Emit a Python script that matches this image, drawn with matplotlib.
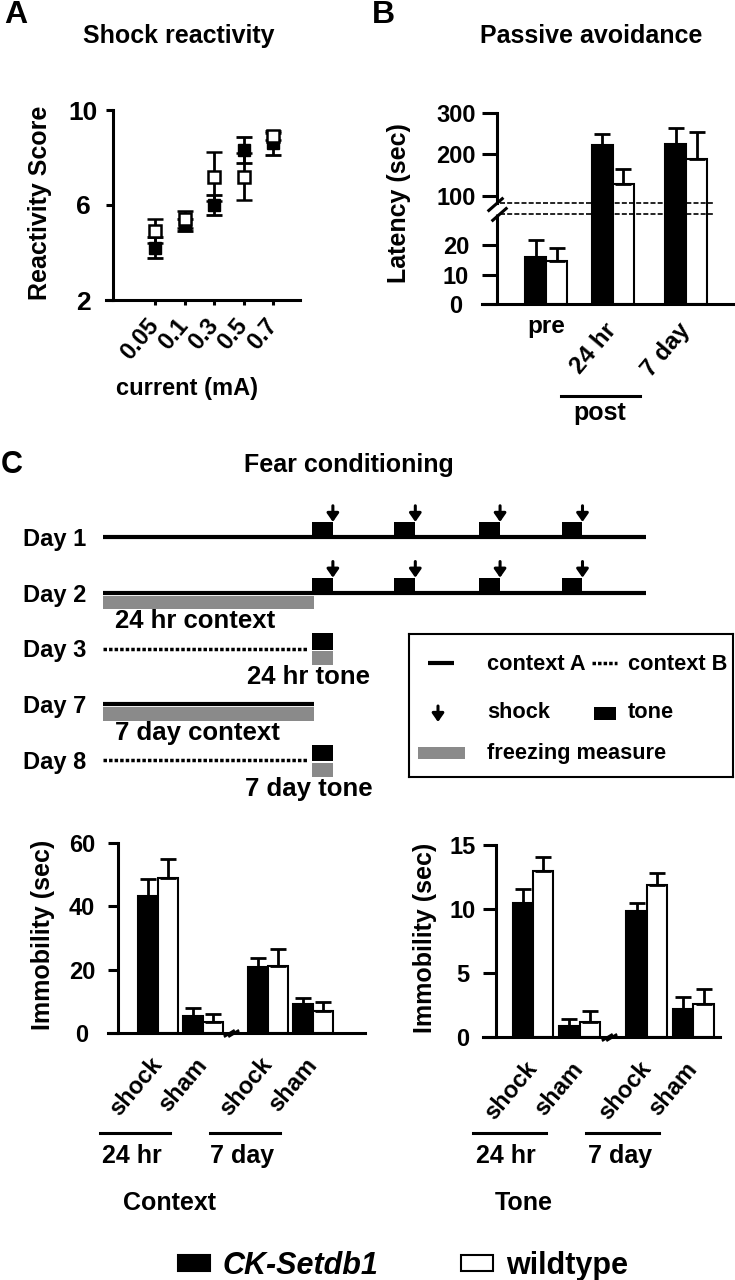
import matplotlib
matplotlib.use("Agg")
import matplotlib.pyplot as plt
import matplotlib.transforms as mtransforms
from matplotlib.path import Path
import numpy as np

plt.rcParams['font.family'] = ['Liberation Sans', 'DejaVu Sans']
plt.rcParams['font.weight'] = 'bold'
plt.rcParams['axes.labelweight'] = 'bold'

# ---- data ----
# A: shock reactivity
currents = ['0.05', '0.1', '0.3', '0.5', '0.7']
react_ck = [4.2, 5.15, 6.0, 8.32, 8.62]
react_ck_err = [0.45, 0.25, 0.42, 0.55, 0.5]
react_wt = [4.9, 5.4, 7.2, 7.2, 8.9]
react_wt_err = [0.5, 0.35, 1.05, 1.0, 0.15]

# B: passive avoidance latency
pa_labels = ['pre', '24 hr', '7 day']
pa_ck = [16, 222, 225]
pa_ck_err = [5.7, 28, 39]
pa_wt = [14.6, 128, 189]
pa_wt_err = [4.4, 37, 66]

# C: fear conditioning immobility
fc_labels = ['shock', 'sham', 'shock', 'sham']
fc_groups = ['24 hr', '7 day']
ctx_ck = [43.2, 5.4, 21.0, 9.2]
ctx_ck_err = [5.5, 2.5, 2.8, 2.0]
ctx_wt = [48.8, 3.5, 21.3, 6.8]
ctx_wt_err = [6.3, 2.5, 5.3, 3.1]
tone_ck = [10.5, 0.85, 9.85, 2.2]
tone_ck_err = [1.1, 0.55, 0.65, 0.9]
tone_wt = [13.0, 1.2, 11.9, 2.6]
tone_wt_err = [1.1, 0.8, 0.9, 1.15]

# C: protocol schematic (times in s)
days = ['Day 1', 'Day 2', 'Day 3', 'Day 7', 'Day 8']
day_context = ['A', 'A', 'B', 'A', 'B']
day_end = [468, 468, 177, 182, 177]
day_tones = [[180, 251, 324, 395], [180, 251, 324, 395], [180], [], [180]]
day_shock = [True, True, False, False, False]
tone_dur = 18
freeze_window = [None, (0, 182), (180, 198), (0, 182), (180, 198)]
freeze_label = [None, '24 hr context', '24 hr tone', '7 day context', '7 day tone']

GREY = '#8a8a8a'
ROT = 50
W, H = 735, 1280
fig = plt.figure(figsize=(W / 100, H / 100), dpi=100)


def fx(x):
    return x / W


def fy(y):
    return 1 - y / H


def px_axes(left, top, right, bottom):
    return fig.add_axes([fx(left), fy(bottom), (right - left) / W, (bottom - top) / H])


def prism(ax, spine_x, tick_px, label_cx_px, spine_px):
    for s in ['top', 'right']:
        ax.spines[s].set_visible(False)
    ax.spines['left'].set_position(('data', spine_x))
    ax.spines['left'].set_linewidth(2.2)
    ax.spines['bottom'].set_linewidth(2.2)
    L = tick_px * 0.72
    ax.tick_params(axis='y', length=L, width=2.2,
                   pad=(spine_px - label_cx_px) * 0.72 - L)


err_kw = dict(elinewidth=2, capthick=2, ecolor='k')
arrow_kw = dict(arrowstyle='-|>,head_length=0.5,head_width=0.35', color='k', lw=2.2,
                mutation_scale=10, shrinkA=0, shrinkB=0)

# ---------------- A ----------------
axA = px_axes(106, 110, 300, 300)
xA = np.arange(len(currents))
axA.set_xlim((106 - 155) / 29.5, (300 - 155) / 29.5)
axA.set_ylim(2, 10)
axA.errorbar(xA, react_ck, yerr=react_ck_err, fmt='s', color='k', ms=8.5,
             capsize=6, elinewidth=2, capthick=2)
axA.errorbar(xA, react_wt, yerr=react_wt_err, fmt='s', color='k', mfc='white',
             mec='k', mew=1.8, ms=8.5, capsize=6, elinewidth=2, capthick=2)
prism(axA, (113 - 155) / 29.5, 7, 83, 113)
axA.set_yticks([2, 6, 10], ['2', '6', '10'], ha='center', fontsize=19)
axA.set_xticks(xA, currents, rotation=ROT, ha='right', va='center',
               rotation_mode='anchor', fontsize=17)
axA.tick_params(axis='x', length=3.6, width=2.2, pad=12)
fig.text(fx(179), fy(43), 'Shock reactivity', ha='center', va='baseline', fontsize=18)
fig.text(fx(40), fy(203), 'Reactivity Score', rotation=90, ha='center', va='center', fontsize=18)
fig.text(fx(187), fy(395), 'current (mA)', ha='center', va='baseline', fontsize=17)
fig.text(fx(4), fy(23), 'A', ha='left', va='baseline', fontsize=23)

# ---------------- B ----------------
brk_lo, brk_hi = 30.5, 83
v_pts = [-100, 0, brk_lo, brk_hi, 300, 1000]
t_top = brk_lo + 3.73 + (300 - brk_hi) * 0.1407
t_pts = [-100, 0, brk_lo, brk_lo + 3.73, t_top, t_top + 700 * 0.1407]


def fwd(v):
    return np.interp(v, v_pts, t_pts)


def inv(t):
    return np.interp(t, t_pts, v_pts)


axB = px_axes(482, 113, 735, 304)
axB.set_yscale('function', functions=(fwd, inv))
xB = np.array([0, 0.95, 2.0])
bw = 0.3
axB.bar(xB - bw / 2, pa_ck, bw, color='k', edgecolor='k', lw=1.5,
        yerr=[np.zeros(3), pa_ck_err], capsize=6, error_kw=err_kw)
axB.bar(xB + bw / 2, pa_wt, bw, color='white', edgecolor='k', lw=1.5,
        yerr=[np.zeros(3), pa_wt_err], capsize=6, error_kw=err_kw)
axB.set_xlim((482 - 546) / 70, (735 - 546) / 70)
axB.set_ylim(0, 300)
spB = (497 - 546) / 70
prism(axB, spB, 15, 456, 497)
axB.spines['left'].set_bounds(brk_hi, 300)
axB.vlines(spB, 0, brk_lo, color='k', lw=2.2, clip_on=False)
axB.set_yticks([0, 10, 20, 100, 200, 300], ['0', '10', '20', '100', '200', '300'],
               ha='center', fontsize=17)
axB.yaxis.set_minor_locator(matplotlib.ticker.NullLocator())
axB.hlines([brk_lo, brk_hi], (500 - 546) / 70, (713 - 546) / 70, color='k', lw=1.2,
           linestyle=(0, (3, 1.3)), zorder=3)
brk_marker = Path([(-10, -2), (6, 12), (-6, -12), (10, 2)],
                  [Path.MOVETO, Path.LINETO, Path.MOVETO, Path.LINETO])
axB.plot([spB], [(brk_lo + brk_hi) / 2], marker=brk_marker, ms=17, mew=2.2,
         color='k', ls='none', clip_on=False)
axB.set_xticks(xB, pa_labels, va='center', fontsize=17.5)
axB.tick_params(axis='x', length=0, pad=16)
for lbl in axB.get_xticklabels()[1:]:
    lbl.set_rotation(ROT)
    lbl.set_ha('right')
    lbl.set_rotation_mode('anchor')
trB = mtransforms.blended_transform_factory(axB.transData, fig.transFigure)
axB.plot([xB[1] - 0.74, xB[1] + 0.39], [fy(396)] * 2, color='k', lw=2.2,
         transform=trB, clip_on=False)
axB.text(xB[1] - 0.18, fy(420), 'post', transform=trB, ha='center', va='baseline', fontsize=18)
fig.text(fx(591), fy(43), 'Passive avoidance', ha='center', va='baseline', fontsize=18)
fig.text(fx(399), fy(203), 'Latency (sec)', rotation=90, ha='center', va='center', fontsize=18)
fig.text(fx(372), fy(23), 'B', ha='left', va='baseline', fontsize=23)

# ---------------- C schematic ----------------
px_s = 1.161
axS = px_axes(103, 495, 735, 800)
axS.set_xlim(0, (735 - 103) / px_s)
axS.set_ylim((800 - 537) / 55.75, (495 - 537) / 55.75)
for s in axS.spines.values():
    s.set_visible(False)
axS.set_xticks([])
axS.set_yticks(range(len(days)), days, fontsize=17)
axS.tick_params(axis='y', length=0, pad=12)
for i in range(len(days)):
    if day_context[i] == 'A':
        axS.plot([0, day_end[i]], [i, i], color='k', lw=3, solid_capstyle='butt')
    else:
        axS.plot([0, day_end[i]], [i, i], color='k', lw=2.5, ls=(0, (1, 0.6)))
    for t in day_tones[i]:
        axS.barh(i - 0.125, tone_dur, 0.29, left=t, color='k')
        if day_shock[i]:
            axS.annotate('', xy=(t + tone_dur, i - 0.27), xytext=(t + tone_dur, i - 0.56),
                         arrowprops=arrow_kw)
    if freeze_window[i] is not None:
        a, b = freeze_window[i]
        axS.barh(i + 0.175, b - a, 0.25, left=a, color=GREY)
        if b - a > 50:
            axS.text(a + 10, i + 0.64, freeze_label[i], ha='left', va='baseline', fontsize=18.5)
        else:
            axS.text(a - 3, i + 0.64, freeze_label[i], ha='center', va='baseline', fontsize=18.5)
fig.text(fx(349), fy(472), 'Fear conditioning', ha='center', va='baseline', fontsize=18)
fig.text(fx(1), fy(473), 'C', ha='left', va='baseline', fontsize=22)

# legend box for schematic
axL = px_axes(409, 634, 733, 777)
axL.set_xlim(0, 324)
axL.set_ylim(143, 0)
axL.set_xticks([])
axL.set_yticks([])
for s in axL.spines.values():
    s.set_linewidth(1.5)
axL.plot([19, 45], [29, 29], color='k', lw=3, solid_capstyle='butt')
axL.plot([183, 208], [29, 29], color='k', lw=2.5, ls=(0, (1, 0.6)))
axL.annotate('', xy=(29, 88), xytext=(29, 72), arrowprops=arrow_kw)
axL.bar(196, 13, 22, bottom=73, color='k')
axL.barh(119, 47, 12, left=9, color=GREY)
for tx, ty, s in [(78, 31, 'context A'), (219, 31, 'context B'), (78, 79, 'shock'),
                  (219, 79, 'tone'), (78, 119, 'freezing measure')]:
    axL.text(tx, ty, s, ha='left', va='center', fontsize=15.7)

# ---------------- C bars ----------------
xC = np.array([0, 1, 2.45, 3.45])
bwC = 0.44
brk_x = 1.63
brk_small = Path([(-7, -3), (3, 3), (-3, -3), (7, 3)],
                 [Path.MOVETO, Path.LINETO, Path.MOVETO, Path.LINETO])


def fc_panel(box, unit, x0, spine_px, tick_px, label_cx, ylim, yticks, ck, ck_err, wt, wt_err,
             ylab_xy, title, title_x):
    left, top, right, bottom = box
    ax = px_axes(left, top, right, bottom)
    h_ck = ax.bar(xC - bwC / 2, ck, bwC, color='k', edgecolor='k', lw=1.5,
                  yerr=[np.zeros(4), ck_err], capsize=6, error_kw=err_kw)
    h_wt = ax.bar(xC + bwC / 2, wt, bwC, color='white', edgecolor='k', lw=1.5,
                  yerr=[np.zeros(4), wt_err], capsize=6, error_kw=err_kw)
    ax.set_xlim((left - x0) / unit, (right - x0) / unit)
    ax.set_ylim(*ylim)
    prism(ax, (spine_px - x0) / unit, tick_px, label_cx, spine_px)
    ax.set_yticks(yticks, [str(v) for v in yticks], ha='center', fontsize=17)
    ax.set_xticks(xC, fc_labels, rotation=ROT, ha='right', va='center',
                  rotation_mode='anchor', fontsize=17)
    ax.tick_params(axis='x', length=0, pad=20)
    ax.plot([brk_x], [0], marker=brk_small, ms=11, mew=2, color='k', ls='none',
            clip_on=False, zorder=5)
    tr = mtransforms.blended_transform_factory(ax.transData, fig.transFigure)
    for g, name in enumerate(fc_groups):
        xg = xC[2 * g]
        ax.plot([xg - 1.3, xg + 0.27], [fy(1133)] * 2, color='k', lw=2.2,
                transform=tr, clip_on=False)
        ax.text(xg - 0.58, fy(1163), name, transform=tr, ha='center', va='baseline',
                fontsize=18)
    fig.text(fx(ylab_xy[0]), fy(ylab_xy[1]), 'Immobility (sec)', rotation=90,
             ha='center', va='center', fontsize=18)
    fig.text(fx(title_x), fy(1210), title, ha='center', va='baseline', fontsize=18)
    return h_ck, h_wt


h_ck, h_wt = fc_panel((108, 843, 365, 1033), 45, 158, 118, 10, 82, (0, 60), [0, 20, 40, 60],
                      ctx_ck, ctx_ck_err, ctx_wt, ctx_wt_err, (43, 935), 'Context', 170)
fc_panel((483, 845, 720, 1037), 46.5, 533, 496, 13, 463, (0, 15), [0, 5, 10, 15],
         tone_ck, tone_ck_err, tone_wt, tone_wt_err, (425, 938), 'Tone', 524)

leg = fig.legend(handles=[h_ck.patches[0], h_wt.patches[0]], labels=['CK-Setdb1', 'wildtype'],
                 loc='center', bbox_to_anchor=(fx(403), fy(1266)), ncol=2, frameon=False,
                 fontsize=22, handlelength=1.05, handleheight=0.4, handletextpad=0.42,
                 columnspacing=2.7)
leg.get_texts()[0].set_style('italic')

fig.savefig('out.png', dpi=100)
